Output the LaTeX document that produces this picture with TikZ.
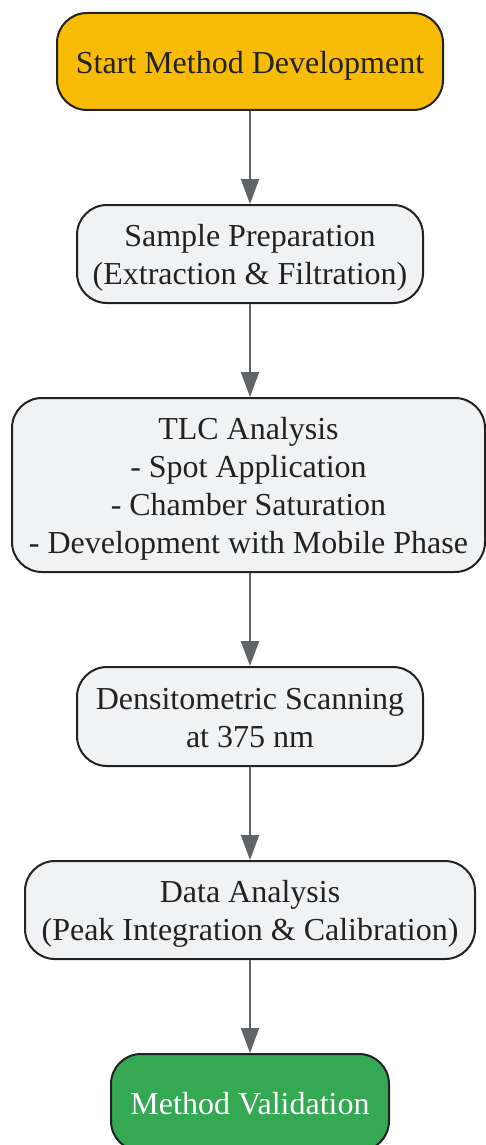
\documentclass[tikz,border=0pt]{standalone}
\usepackage{fontspec}
\setmainfont{Liberation Serif}
\usetikzlibrary{arrows.meta}
\definecolor{startc}{HTML}{F9BC06}
\definecolor{boxc}{HTML}{F1F2F4}
\definecolor{edgec}{HTML}{222222}
\definecolor{arrowc}{HTML}{606368}
\definecolor{endc}{HTML}{34A853}
\newcommand{\fa}{\rule{0pt}{32pt}}
\newcommand{\fz}{\rule[-8.4pt]{0pt}{8.4pt}}
\tikzset{
  flowbox/.style={draw=edgec, line width=2pt, rounded corners=30pt, fill=boxc,
    text=edgec, align=center, inner sep=0pt,
    font=\fontsize{32}{38}\selectfont},
  flowarrow/.style={draw=arrowc, line width=2pt,
    -{Triangle[length=25pt,width=18pt]}}
}
\begin{document}
\begin{tikzpicture}[x=1pt,y=-1pt]
\useasboundingbox (0,0) rectangle (486,1145);
\fill[white] (0,0) rectangle (486,1145);
\node[flowbox, fill=startc, minimum width=386pt, minimum height=97pt] (n1) at (250,61.5) {\fa Start Method Development\fz};
\node[flowbox, minimum width=346pt, minimum height=98pt] (n2) at (250,254) {\fa Sample Preparation\\(Extraction \& Filtration)\fz};
\node[flowbox, minimum width=473pt, minimum height=174pt] (n3) at (248.5,485) {\fa TLC Analysis\\- Spot Application\\- Chamber Saturation\\- Development with Mobile Phase\fz};
\node[flowbox, minimum width=346pt, minimum height=99pt] (n4) at (250,716.5) {\fa Densitometric Scanning\\at 375 nm\fz};
\node[flowbox, minimum width=450pt, minimum height=98pt] (n5) at (250,910) {\fa Data Analysis\\(Peak Integration \& Calibration)\fz};
\node[flowbox, fill=endc, text=white, minimum width=278pt, minimum height=97pt] (n6) at (250,1102.5) {\fa Method Validation\fz};
\draw[flowarrow] (n1.south -| 250,0) -- (n2.north -| 250,0);
\draw[flowarrow] (n2.south -| 250,0) -- (n3.north -| 250,0);
\draw[flowarrow] (n3.south -| 250,0) -- (n4.north -| 250,0);
\draw[flowarrow] (n4.south -| 250,0) -- (n5.north -| 250,0);
\draw[flowarrow] (n5.south -| 250,0) -- (n6.north -| 250,0);
\end{tikzpicture}
\end{document}
